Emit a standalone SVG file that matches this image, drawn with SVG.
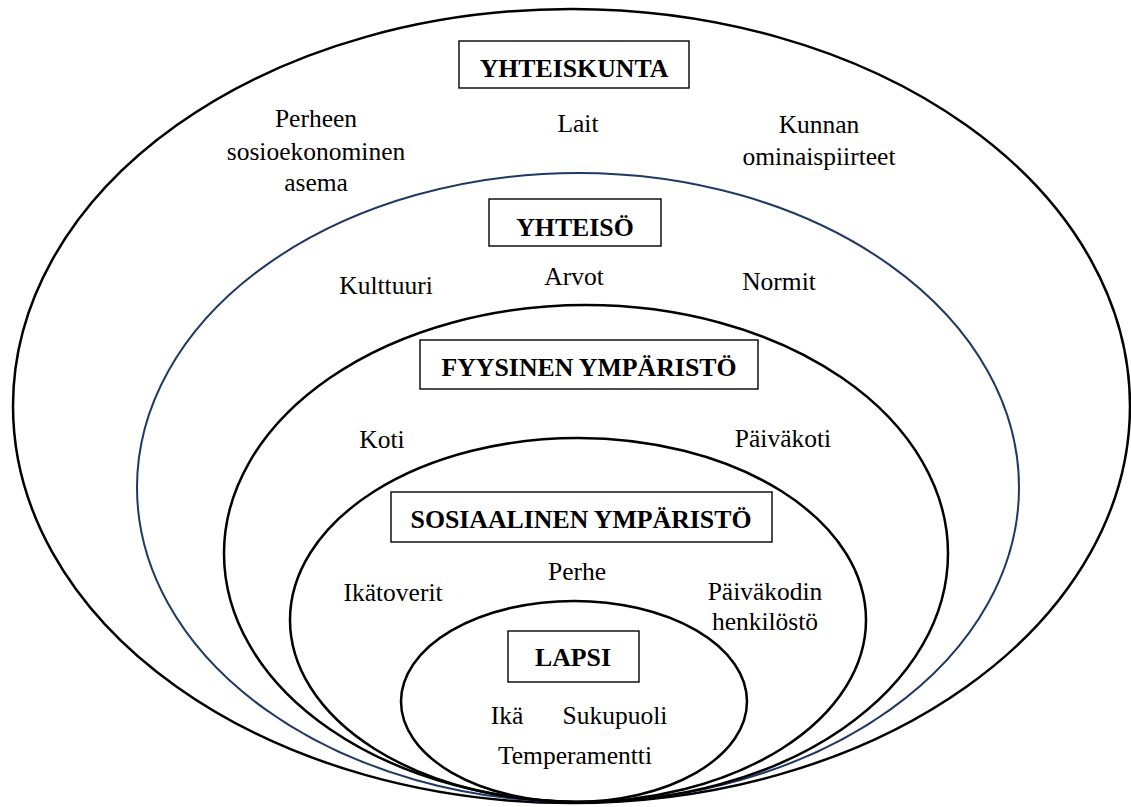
<svg xmlns="http://www.w3.org/2000/svg" width="1131" height="807" viewBox="0 0 1131 807">
<style>
.ring{fill:none;stroke:#000;stroke-width:2.5}
.blue{stroke:#1f3864;stroke-width:2}
.box{fill:#fff;stroke:#000;stroke-width:1.4}
text{font-family:'Liberation Serif','Times New Roman',Tinos,serif;font-size:25.5px;fill:#000;text-anchor:middle}
.b{font-weight:bold;font-size:25.8px}
</style>
<rect width="1131" height="807" fill="#fff"/>
<g id="rings">
<ellipse id="ring-yhteiskunta" class="ring" cx="571.5" cy="406" rx="558.5" ry="397"/>
<ellipse id="ring-yhteiso" class="ring blue" cx="578" cy="487.5" rx="441" ry="314.5"/>
<ellipse id="ring-fyysinen" class="ring" cx="586" cy="553.5" rx="362" ry="248.5"/>
<ellipse id="ring-sosiaalinen" class="ring" cx="578" cy="620" rx="288" ry="182"/>
<ellipse id="ring-lapsi" class="ring" cx="574" cy="701.5" rx="173" ry="100.5"/>
</g>
<g id="yhteiskunta">
<rect class="box" x="459" y="41" width="230" height="47"/>
<text class="b" x="574" y="76.5">YHTEISKUNTA</text>
<text x="316" y="127">Perheen</text>
<text x="316" y="159.5">sosioekonominen</text>
<text x="316" y="191">asema</text>
<text x="578" y="132">Lait</text>
<text x="819" y="132.5">Kunnan</text>
<text x="819" y="164.5">ominaispiirteet</text>
</g>
<g id="yhteiso">
<rect class="box" x="489" y="199" width="172" height="47"/>
<text class="b" x="575" y="235.5">YHTEISÖ</text>
<text x="386" y="293.5">Kulttuuri</text>
<text x="574" y="285">Arvot</text>
<text x="779" y="289.5">Normit</text>
</g>
<g id="fyysinen">
<rect class="box" x="420" y="340" width="338" height="49"/>
<text class="b" x="589" y="375.5">FYYSINEN YMPÄRISTÖ</text>
<text x="382" y="447.5">Koti</text>
<text x="783" y="446.5">Päiväkoti</text>
</g>
<g id="sosiaalinen">
<rect class="box" x="391" y="492" width="381" height="50"/>
<text class="b" x="581" y="527.5">SOSIAALINEN YMPÄRISTÖ</text>
<text x="577" y="579.5">Perhe</text>
<text x="393" y="600.5">Ikätoverit</text>
<text x="765" y="599.5">Päiväkodin</text>
<text x="765" y="630">henkilöstö</text>
</g>
<g id="lapsi">
<rect class="box" x="508" y="631" width="131" height="51"/>
<text class="b" x="573" y="666">LAPSI</text>
<text x="507" y="724">Ikä</text>
<text x="615" y="724">Sukupuoli</text>
<text x="575" y="764">Temperamentti</text>
</g>
<g id="connectors"></g>
</svg>
